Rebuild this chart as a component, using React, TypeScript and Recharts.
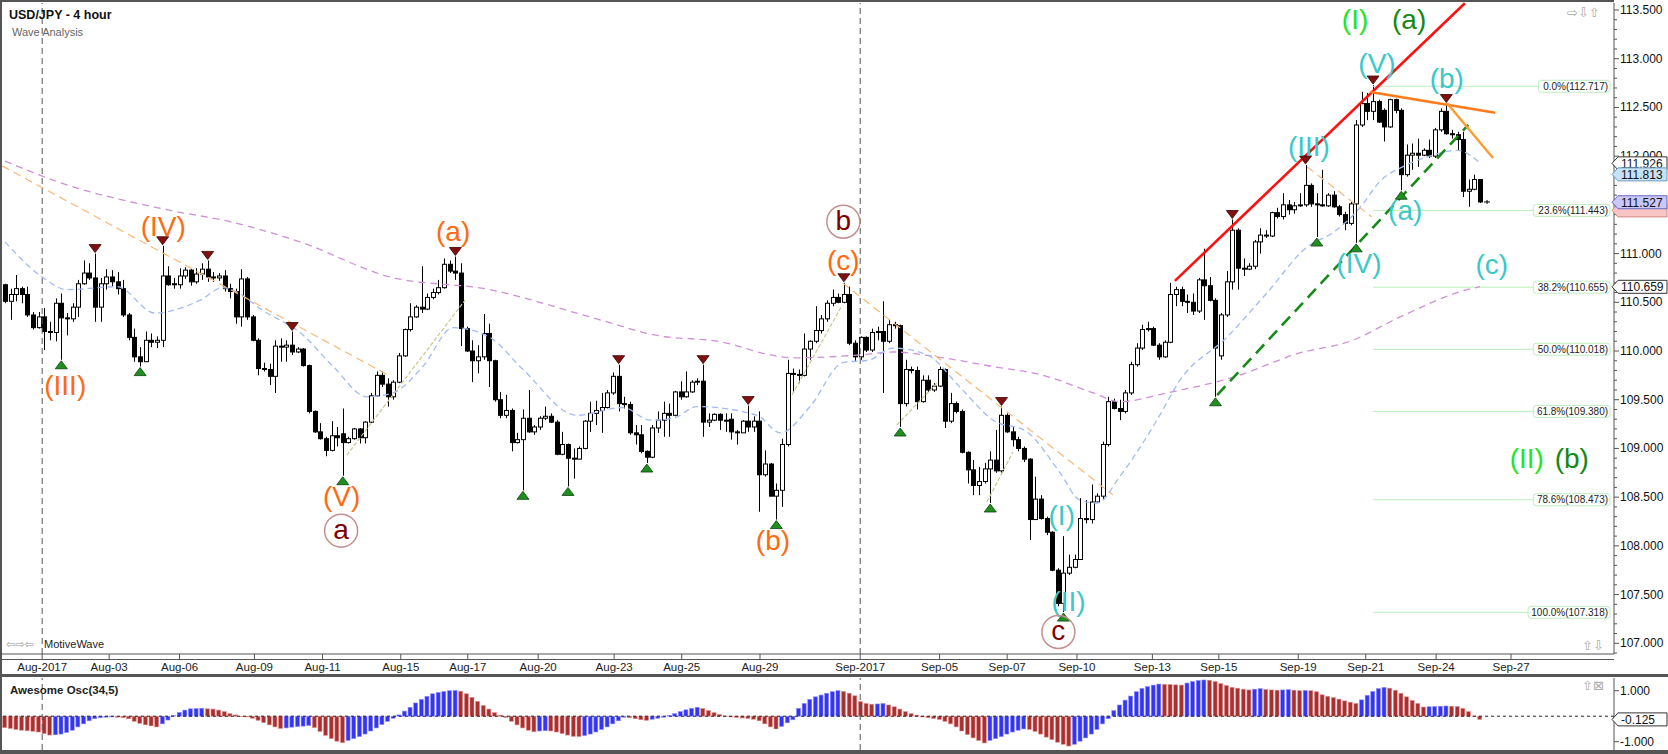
import React from "react";
import {
  ComposedChart, Bar, Line, XAxis, YAxis, ReferenceLine, ReferenceDot,
} from "recharts";

// 4h candles, one per bar (index 0 = first visible bar)
const OPEN = [
  110.68, 110.51, 110.58, 110.64, 110.58, 110.37, 110.24, 110.35, 110.20, 110.19,
  110.49, 110.34, 110.33, 110.45, 110.69, 110.80, 110.75, 110.45, 110.69, 110.76,
  110.71, 110.64, 110.37, 110.14, 109.94, 109.89, 110.11, 110.09, 110.11, 110.77,
  110.69, 110.68, 110.77, 110.83, 110.71, 110.79, 110.84, 110.76, 110.75, 110.77,
  110.64, 110.61, 110.35, 110.74, 110.35, 110.11, 109.82, 109.81, 109.74, 110.05,
  110.04, 110.06, 109.99, 110.02, 109.85, 109.38, 109.17, 109.10, 108.98, 109.13,
  109.15, 109.06, 109.10, 109.20, 109.11, 109.27, 109.54, 109.75, 109.66, 109.53,
  109.68, 109.95, 110.22, 110.35, 110.45, 110.43, 110.55, 110.60, 110.65, 110.89,
  110.82, 110.80, 110.23, 110.00, 109.90, 109.94, 110.18, 109.90, 109.50, 109.34,
  109.39, 109.06, 109.09, 109.31, 109.17, 109.22, 109.31, 109.33, 109.27, 108.94,
  109.04, 108.90, 108.89, 109.00, 109.28, 109.36, 109.39, 109.42, 109.57, 109.74,
  109.46, 109.45, 109.16, 109.14, 108.97, 108.91, 109.21, 109.29, 109.36, 109.34,
  109.58, 109.53, 109.58, 109.68, 109.69, 109.27, 109.29, 109.35, 109.29, 109.30,
  109.17, 109.16, 109.28, 109.22, 109.28, 108.73, 108.84, 108.51, 108.57, 109.04,
  109.77, 109.76, 109.75, 110.02, 110.10, 110.21, 110.33, 110.49, 110.55, 110.50,
  110.58, 110.08, 109.94, 110.14, 110.01, 110.19, 110.20, 110.10, 110.27, 110.26,
  109.46, 109.81, 109.80, 109.48, 109.70, 109.60, 109.64, 109.81, 109.28, 109.46,
  109.38, 108.96, 108.78, 108.62, 108.66, 108.79, 108.88, 108.77, 109.34, 109.17,
  109.09, 109.00, 108.89, 108.27, 108.48, 108.28, 108.14, 107.75, 107.41, 107.72,
  107.78, 107.86, 108.28, 108.27, 108.45, 108.51, 109.04, 109.48, 109.41, 109.38,
  109.57, 109.86, 110.03, 110.22, 110.23, 110.06, 109.94, 110.09, 110.58, 110.63,
  110.51, 110.50, 110.41, 110.73, 110.67, 110.52, 109.95, 110.37, 110.71, 111.24,
  110.85, 110.84, 110.87, 111.12, 111.19, 111.18, 111.42, 111.38, 111.50, 111.45,
  111.49, 111.50, 111.70, 111.51, 111.50, 111.49, 111.60, 111.48, 111.40, 111.31,
  111.51, 112.32, 112.54, 112.46, 112.56, 112.47, 112.30, 112.58, 112.47, 111.81,
  112.01, 112.03, 112.01, 112.06, 112.00, 112.27, 112.46, 112.23, 112.22, 112.17,
  111.64, 111.66, 111.76,
];
const HIGH = [
  110.69, 110.64, 110.78, 110.66, 110.66, 110.40, 110.40, 110.44, 110.30, 110.54,
  110.59, 110.39, 110.49, 110.73, 110.93, 110.90, 111.00, 110.75, 110.84, 110.83,
  110.81, 110.73, 110.39, 110.23, 110.04, 110.20, 110.18, 110.15, 111.08, 110.87,
  110.75, 110.85, 110.86, 110.85, 110.85, 110.90, 110.93, 110.81, 110.80, 110.83,
  110.69, 110.64, 110.84, 110.76, 110.37, 110.13, 109.88, 109.87, 110.11, 110.13,
  110.11, 110.20, 110.04, 110.03, 109.86, 109.39, 109.26, 109.12, 109.28, 109.22,
  109.41, 109.12, 109.21, 109.21, 109.28, 109.57, 109.79, 109.79, 109.72, 109.70,
  109.98, 110.23, 110.49, 110.47, 110.87, 110.59, 110.64, 110.73, 110.95, 110.93,
  110.97, 110.90, 110.25, 110.11, 110.06, 110.38, 110.28, 109.91, 109.58, 109.55,
  109.41, 109.16, 109.40, 109.60, 109.24, 109.33, 109.43, 109.36, 109.29, 109.17,
  109.05, 109.00, 109.02, 109.29, 109.48, 109.49, 109.57, 109.60, 109.78, 109.86,
  109.53, 109.48, 109.24, 109.24, 108.98, 109.24, 109.38, 109.48, 109.46, 109.59,
  109.69, 109.79, 109.70, 109.72, 109.86, 109.36, 109.36, 109.36, 109.36, 109.36,
  109.19, 109.29, 109.44, 109.33, 109.38, 108.98, 108.85, 108.64, 109.10, 109.91,
  109.82, 109.81, 110.18, 110.11, 110.46, 110.37, 110.52, 110.63, 110.59, 110.70,
  110.66, 110.11, 110.15, 110.15, 110.23, 110.25, 110.51, 110.32, 110.30, 110.27,
  109.91, 109.84, 109.84, 109.75, 109.75, 109.67, 109.84, 109.82, 109.57, 109.48,
  109.40, 108.97, 108.88, 108.81, 108.85, 108.97, 109.19, 109.43, 109.36, 109.22,
  109.12, 109.02, 108.90, 108.71, 108.52, 108.30, 108.15, 107.77, 108.10, 107.91,
  107.91, 108.49, 108.47, 108.63, 108.54, 109.07, 109.53, 109.51, 109.50, 109.60,
  109.89, 110.08, 110.27, 110.30, 110.25, 110.08, 110.11, 110.70, 110.66, 110.66,
  110.58, 110.59, 110.75, 111.05, 110.76, 110.54, 110.39, 110.82, 111.35, 111.26,
  110.95, 110.90, 111.14, 111.26, 111.24, 111.43, 111.47, 111.62, 111.55, 111.53,
  111.62, 111.91, 111.72, 111.62, 111.86, 111.62, 111.64, 111.50, 111.43, 111.53,
  112.37, 112.66, 112.65, 112.73, 112.58, 112.49, 112.59, 112.59, 112.49, 112.12,
  112.13, 112.18, 112.08, 112.17, 112.29, 112.49, 112.54, 112.27, 112.25, 112.25,
  111.76, 111.81, 111.76,
];
const LOW = [
  110.49, 110.32, 110.51, 110.49, 110.35, 110.22, 110.23, 110.01, 110.11, 110.10,
  109.91, 110.16, 110.30, 110.35, 110.68, 110.73, 110.30, 110.30, 110.63, 110.66,
  110.58, 110.35, 110.11, 109.89, 109.84, 109.89, 110.04, 110.03, 110.04, 110.67,
  110.64, 110.64, 110.74, 110.67, 110.69, 110.73, 110.71, 110.71, 110.72, 110.61,
  110.54, 110.28, 110.25, 110.32, 110.10, 109.75, 109.79, 109.65, 109.57, 109.89,
  109.89, 109.96, 109.98, 109.84, 109.36, 109.16, 109.09, 108.92, 108.97, 109.02,
  108.72, 109.05, 109.09, 109.05, 109.05, 109.26, 109.53, 109.63, 109.43, 109.50,
  109.67, 109.94, 110.20, 110.34, 110.39, 110.42, 110.53, 110.58, 110.64, 110.80,
  110.73, 110.05, 109.99, 109.68, 109.77, 109.91, 109.63, 109.48, 109.31, 109.31,
  108.97, 109.05, 108.57, 109.16, 109.14, 109.19, 109.29, 109.26, 108.93, 108.93,
  108.61, 108.69, 108.89, 108.99, 109.17, 109.24, 109.16, 109.41, 109.55, 109.38,
  109.41, 109.14, 109.04, 108.95, 108.85, 108.90, 109.16, 109.12, 109.12, 109.33,
  109.50, 109.52, 109.57, 109.65, 109.12, 109.22, 109.28, 109.19, 109.17, 109.09,
  109.04, 109.16, 109.17, 109.17, 108.35, 108.71, 108.51, 108.27, 108.40, 109.02,
  109.58, 109.67, 109.74, 109.91, 110.08, 110.18, 110.30, 110.46, 110.49, 110.49,
  110.06, 109.89, 109.91, 109.99, 109.99, 110.11, 109.57, 110.08, 110.23, 109.22,
  109.43, 109.77, 109.40, 109.47, 109.58, 109.58, 109.63, 109.21, 109.26, 109.36,
  108.95, 108.64, 108.52, 108.52, 108.64, 108.44, 108.75, 108.75, 109.16, 109.02,
  108.97, 108.86, 108.06, 108.27, 108.27, 108.11, 107.74, 107.38, 107.32, 107.70,
  107.77, 107.86, 108.23, 108.23, 108.44, 108.47, 109.02, 109.40, 109.29, 109.36,
  109.55, 109.84, 110.01, 110.20, 110.05, 109.91, 109.93, 110.08, 110.46, 110.46,
  110.39, 110.37, 110.39, 110.32, 110.51, 109.53, 109.91, 110.35, 110.63, 110.63,
  110.77, 110.83, 110.84, 111.00, 111.16, 111.17, 111.36, 111.35, 111.40, 111.41,
  111.48, 111.48, 111.48, 111.17, 111.48, 111.48, 111.47, 111.38, 111.24, 111.29,
  111.11, 112.30, 112.37, 112.37, 112.34, 112.15, 112.29, 112.44, 111.65, 111.79,
  111.86, 111.89, 112.00, 111.98, 111.98, 112.25, 112.22, 112.18, 112.06, 111.58,
  111.48, 111.65, 111.52,
];
const CLOSE = [
  110.51, 110.58, 110.64, 110.58, 110.37, 110.24, 110.35, 110.20, 110.19, 110.49,
  110.34, 110.33, 110.45, 110.69, 110.80, 110.75, 110.45, 110.69, 110.76, 110.71,
  110.64, 110.37, 110.14, 109.94, 109.89, 110.11, 110.09, 110.11, 110.77, 110.68,
  110.68, 110.77, 110.83, 110.71, 110.79, 110.84, 110.76, 110.75, 110.77, 110.64,
  110.61, 110.35, 110.74, 110.35, 110.11, 109.82, 109.81, 109.74, 110.05, 110.04,
  110.06, 109.99, 110.02, 109.85, 109.38, 109.17, 109.10, 108.98, 109.13, 109.11,
  109.06, 109.10, 109.20, 109.11, 109.27, 109.54, 109.75, 109.66, 109.53, 109.68,
  109.95, 110.22, 110.35, 110.45, 110.43, 110.55, 110.60, 110.65, 110.89, 110.82,
  110.80, 110.23, 110.00, 109.90, 109.94, 110.18, 109.90, 109.50, 109.34, 109.39,
  109.06, 109.09, 109.31, 109.17, 109.22, 109.31, 109.33, 109.27, 108.94, 109.04,
  108.90, 108.89, 109.00, 109.28, 109.36, 109.39, 109.42, 109.57, 109.74, 109.46,
  109.45, 109.16, 109.14, 108.97, 108.91, 109.21, 109.29, 109.36, 109.34, 109.58,
  109.53, 109.58, 109.68, 109.69, 109.27, 109.29, 109.35, 109.29, 109.28, 109.17,
  109.16, 109.28, 109.22, 109.28, 108.73, 108.84, 108.51, 108.57, 109.04, 109.77,
  109.76, 109.75, 110.02, 110.10, 110.21, 110.33, 110.49, 110.55, 110.50, 110.58,
  110.08, 109.94, 110.14, 110.01, 110.19, 110.20, 110.10, 110.27, 110.26, 109.46,
  109.81, 109.80, 109.48, 109.70, 109.60, 109.64, 109.81, 109.28, 109.46, 109.38,
  108.96, 108.78, 108.62, 108.66, 108.79, 108.88, 108.77, 109.34, 109.17, 109.09,
  109.00, 108.89, 108.27, 108.48, 108.28, 108.14, 107.75, 107.41, 107.72, 107.78,
  107.86, 108.28, 108.27, 108.45, 108.51, 109.04, 109.48, 109.41, 109.38, 109.57,
  109.86, 110.03, 110.22, 110.23, 110.06, 109.94, 110.09, 110.58, 110.63, 110.51,
  110.50, 110.41, 110.73, 110.67, 110.52, 110.03, 110.37, 110.71, 111.24, 110.85,
  110.84, 110.87, 111.12, 111.19, 111.18, 111.42, 111.38, 111.50, 111.45, 111.49,
  111.50, 111.70, 111.51, 111.50, 111.49, 111.60, 111.48, 111.40, 111.31, 111.51,
  112.32, 112.54, 112.46, 112.56, 112.35, 112.30, 112.58, 112.47, 111.81, 112.01,
  112.03, 112.01, 112.06, 112.00, 112.27, 112.46, 112.23, 112.22, 112.17, 111.64,
  111.66, 111.76, 111.53,
];

// Awesome Oscillator (34,5), one value per bar
const AO = [
  -0.45, -0.48, -0.52, -0.55, -0.57, -0.59, -0.62, -0.68, -0.74, -0.73,
  -0.70, -0.64, -0.55, -0.42, -0.30, -0.18, -0.10, -0.06, -0.04, -0.03,
  -0.04, -0.06, -0.10, -0.20, -0.28, -0.34, -0.38, -0.42, -0.30, -0.15,
  0.02, 0.15, 0.24, 0.29, 0.30, 0.31, 0.29, 0.28, 0.24, 0.18,
  0.10, 0.05, 0.00, -0.03, -0.08, -0.16, -0.25, -0.34, -0.42, -0.48,
  -0.46, -0.43, -0.41, -0.39, -0.37, -0.45, -0.60, -0.75, -0.88, -0.98,
  -1.04, -0.95, -0.88, -0.80, -0.70, -0.58, -0.46, -0.33, -0.20, -0.08,
  0.05, 0.20, 0.35, 0.52, 0.66, 0.78, 0.88, 0.93, 0.97, 1.00,
  1.01, 0.98, 0.88, 0.74, 0.58, 0.42, 0.28, 0.14, 0.04, -0.05,
  -0.20, -0.34, -0.46, -0.55, -0.61, -0.58, -0.57, -0.58, -0.62, -0.68,
  -0.74, -0.79, -0.80, -0.76, -0.70, -0.62, -0.52, -0.42, -0.30, -0.18,
  -0.04, -0.06, -0.10, -0.14, -0.16, -0.12, -0.08, -0.04, 0.02, 0.10,
  0.18, 0.25, 0.31, 0.35, 0.30, 0.22, 0.14, 0.07, 0.01, -0.03,
  -0.05, -0.07, -0.09, -0.12, -0.18, -0.30, -0.42, -0.50, -0.40, -0.26,
  -0.14, 0.31, 0.50, 0.66, 0.76, 0.83, 0.90, 0.96, 1.00, 0.97,
  0.90, 0.80, 0.57, 0.50, 0.47, 0.48, 0.50, 0.44, 0.37, 0.28,
  0.18, 0.10, 0.04, -0.03, -0.06, -0.09, -0.13, -0.20, -0.30, -0.42,
  -0.58, -0.72, -0.85, -0.95, -1.05, -0.95, -0.88, -0.80, -0.70, -0.62,
  -0.55, -0.50, -0.52, -0.60, -0.70, -0.82, -0.92, -1.02, -1.10, -1.17,
  -1.10, -0.98, -0.85, -0.70, -0.52, -0.30, -0.10, 0.22, 0.44, 0.63,
  0.79, 0.96, 1.09, 1.16, 1.22, 1.26, 1.25, 1.24, 1.23, 1.22,
  1.30, 1.36, 1.40, 1.42, 1.41, 1.36, 1.28, 1.20, 1.13, 1.10,
  1.06, 1.03, 1.06, 1.08, 1.05, 1.03, 1.02, 1.03, 1.04, 1.02,
  1.00, 1.01, 1.00, 0.96, 0.84, 0.78, 0.73, 0.67, 0.60, 0.55,
  0.50, 0.64, 0.82, 0.97, 1.08, 1.13, 1.10, 1.02, 0.90, 0.76,
  0.62, 0.50, 0.36, 0.37, 0.38, 0.39, 0.40, 0.39, 0.38, 0.31,
  0.18, 0.01, -0.125,
];

// date axis (bar-index position of each label)
const TICK_IDX = [6.6, 18.5, 31.0, 44.3, 56.4, 70.3, 82.2, 94.7, 108.2, 120.2, 134.1,
  151.9, 166.0, 178.0, 190.4, 203.8, 215.6, 229.7, 241.7, 254.2, 267.5];
const TICK_LABELS = ["Aug-2017", "Aug-03", "Aug-06", "Aug-09", "Aug-11", "Aug-15", "Aug-17",
  "Aug-20", "Aug-23", "Aug-25", "Aug-29", "Sep-2017", "Sep-05", "Sep-07", "Sep-10", "Sep-13",
  "Sep-15", "Sep-19", "Sep-21", "Sep-24", "Sep-27"];
const MONTH_LINES = [6.6, 151.9];

const PRICE_LABELS = [107, 107.5, 108, 108.5, 109, 109.5, 110, 110.5, 111, 111.5, 112, 112.5, 113, 113.5];

// moving averages, sampled along the curves
const BLUE_MA_IDX = [0, 6.6, 11, 19.9, 26.6, 34.6, 38.7, 46.5, 52.4, 58.3, 64.3, 68.9, 74.2, 79.6,
  86.1, 92, 101.6, 109.8, 114.6, 118.7, 122.9, 133.6, 137.7, 143, 148.8, 153.6, 157.7, 163.8, 169.6,
  175.5, 181.5, 187.4, 190.9, 194, 198, 204.6, 208.7, 217, 224.2, 231.3, 236, 240.8, 244.2, 249,
  253.6, 257.9, 262];
const BLUE_MA_VAL = [111.12, 110.76, 110.63, 110.66, 110.39, 110.52, 110.65, 110.39, 110.19, 109.84,
  109.53, 109.57, 109.84, 110.24, 110.14, 109.81, 109.34, 109.42, 109.29, 109.31, 109.43, 109.34,
  109.16, 109.43, 109.88, 109.91, 110.03, 109.96, 109.63, 109.29, 109.17, 108.75, 108.47, 108.44,
  108.71, 109.29, 109.70, 110.14, 110.60, 111.07, 111.22, 111.48, 111.74, 111.91, 112.01, 112.06,
  111.93];
const PURPLE_MA_IDX = [0, 9.2, 28.8, 40.5, 52.4, 68.4, 86.1, 103.9, 115.8, 127.5, 135.9, 140, 151.9,
  157.7, 166.6, 175.5, 184.4, 193.3, 198, 206.4, 218.1, 230, 238.9, 247.8, 259.7, 262];
const PURPLE_MA_VAL = [111.95, 111.74, 111.45, 111.32, 111.12, 110.76, 110.63, 110.35, 110.16, 110.09,
  109.96, 109.93, 109.96, 109.99, 109.93, 109.84, 109.75, 109.57, 109.48, 109.57, 109.73, 109.98,
  110.10, 110.35, 110.63, 110.66];

// swing markers (bar indices)
const SWING_HIGH_IDX = [16, 28, 36, 51, 80, 109, 124, 132, 149, 177, 218, 231, 243, 256];
const SWING_LOW_IDX = [10, 24, 60, 92, 100, 114, 137, 159, 175, 188, 215, 233, 240, 248];

// Fibonacci retracement
const FIB_PCT = ["0.0%", "23.6%", "38.2%", "50.0%", "61.8%", "78.6%", "100.0%"];
const FIB_PRICE = [112.717, 111.443, 110.655, 110.018, 109.380, 108.473, 107.318];
const FIB_START = 243;

// wave labels: [text, bar index, price]
const ORANGE_LABELS = [["(III)", 10.7, 109.63], ["(IV)", 28.1, 111.26], ["(V)", 59.8, 108.49],
  ["(a)", 79.6, 111.21], ["(b)", 136.4, 108.03], ["(c)", 148.9, 110.906]];
const CIRCLE_LABELS = [["a", 59.7, 108.156], ["b", 148.9, 111.327], ["c", 187.1, 107.116]];
const CYAN_LABELS = [["(I)", 187.7, 108.286], ["(II)", 188.9, 107.41], ["(III)", 231.6, 112.08],
  ["(IV)", 240.5, 110.88], ["(V)", 243.7, 112.935], ["(a)", 248.7, 111.42], ["(b)", 256.1, 112.78],
  ["(c)", 264.1, 110.866]];
const LIME_LABELS = [["(I)", 239.8, 113.387], ["(II)", 270.3, 108.881]];
const GREEN_LABELS = [["(a)", 249.4, 113.387], ["(b)", 278.3, 108.881]];

// trend lines: [[idx, price], [idx, price]]
const RED_TREND = [[207.8, 110.72], [259.3, 113.57]];
const GREEN_TREND = [[215.3, 109.548], [259.9, 112.32]];
const ORANGE_TREND = [[242.5, 112.658], [264.7, 112.446]];
const ORANGE2_TREND = [[256.1, 112.545], [264.3, 111.981]];
const LIGHT_TRENDS = [
  [[-0.5, 111.9], [68.0, 109.754]],
  [[148.8, 110.698], [196.8, 108.522]],
  [[231.3, 111.889], [242.8, 111.375]],
];
const TAN_TRENDS = [
  [[60.7, 108.93], [81.7, 110.52]],
  [[139.8, 109.55], [148.7, 110.47]],
  [[158.4, 109.24], [165.5, 109.67]],
  [[174.4, 108.45], [179, 108.96]],
];

// value tags on the price axis
const TAG_PRICES = [111.926, 111.813, 111.443, 111.527, 110.659];
const TAG_KIND = ["plain", "blue", "pink", "violet", "plain"];
const AO_TAG = -0.125;

const CANDLES = OPEN.map((o, i) => ({ i, open: o, high: HIGH[i], low: LOW[i], close: CLOSE[i] }));
const OSC = AO.map((v, i) => ({ i, ao: v, up: i > 0 && v > AO[i - 1] }));
const BLUE_MA = BLUE_MA_IDX.map((i, k) => ({ i, v: BLUE_MA_VAL[k] }));
const PURPLE_MA = PURPLE_MA_IDX.map((i, k) => ({ i, v: PURPLE_MA_VAL[k] }));

const PRICE_TICKS: number[] = [];
for (let t = 1069; t <= 1135; t++) PRICE_TICKS.push(t / 10);

const XMIN = -0.533;
const XMAX = 285.79;
const YMIN = 106.89;
const YMAX = 113.572;
const OMIN = -1.325;
const OMAX = 1.498;

const FONT = '"Liberation Sans", Arial, sans-serif';
const ORANGE = "#ff6a10";
const CYAN = "#3cc8c8";
const LIME = "#22e622";
const DKGREEN = "#138a13";
const MAROON = "#7d0000";

function Candle(props: any) {
  const { x, y, width, height, payload } = props;
  const top = Math.min(y, y + height);
  const h = Math.abs(height);
  const cx = Math.round(x + width / 2) + 0.5;
  const span = payload.high - payload.low;
  const toY = (p: number) => (span > 0 ? top + ((payload.high - p) / span) * h : top);
  const yo = toY(payload.open);
  const yc = toY(payload.close);
  const up = payload.close >= payload.open;
  const bt = Math.min(yo, yc);
  const bh = Math.max(1, Math.abs(yo - yc));
  return (
    <g>
      <line x1={cx} x2={cx} y1={top} y2={top + h} stroke="#000" strokeWidth={1} />
      <rect x={cx - 2} y={bt} width={4} height={bh} fill={up ? "#fff" : "#000"} stroke="#000" strokeWidth={1} />
    </g>
  );
}

function AoBar(props: any) {
  const { x, y, width, height, payload } = props;
  const top = Math.min(y, y + height);
  const h = Math.max(0.5, Math.abs(height));
  return (
    <rect x={x + 0.5} y={top} width={width - 1} height={h}
      fill={payload.up ? "#3434f4" : "#a83030"}
      stroke={payload.up ? "#8c8cff" : "#e09090"} strokeWidth={0.6} />
  );
}

function DateTick(props: any) {
  const { x, y, payload } = props;
  const k = TICK_IDX.indexOf(payload.value);
  return (
    <text x={x} y={y + 12} textAnchor="middle" fontSize={11.5} fill="#222" fontFamily={FONT}>
      {TICK_LABELS[k]}
    </text>
  );
}

function PriceTick(props: any) {
  const { x, y, payload } = props;
  const v = payload.value;
  const major = PRICE_LABELS.some((p) => Math.abs(p - v) < 1e-6);
  return (
    <g>
      <line x1={x} x2={x + (major ? 5 : 3)} y1={y} y2={y} stroke="#555" />
      {major && (
        <text x={x + 6} y={y + 4} fontSize={12} fill="#111" fontFamily={FONT}>
          {v.toFixed(3)}
        </text>
      )}
    </g>
  );
}

function OscTick(props: any) {
  const { x, y, payload } = props;
  return (
    <g>
      <line x1={x} x2={x + 5} y1={y} y2={y} stroke="#555" />
      <text x={x + 6} y={y + 4} fontSize={12} fill="#111" fontFamily={FONT}>
        {payload.value.toFixed(3)}
      </text>
    </g>
  );
}

const textShape = (text: string, color: string) => (p: any) => (
  <text x={p.cx} y={p.cy + 7.5} fill={color} fontSize={28} textAnchor="middle" fontFamily={FONT}>
    {text}
  </text>
);

const circleShape = (text: string) => (p: any) => (
  <g>
    <circle cx={p.cx} cy={p.cy} r={16.5} fill="none" stroke="#c58f8f" strokeWidth={1.5} />
    <text x={p.cx} y={p.cy + 8} fill={MAROON} fontSize={28} textAnchor="middle" fontFamily={FONT}>
      {text}
    </text>
  </g>
);

const downTri = (p: any) => (
  <polygon points={`${p.cx - 6},${p.cy - 9} ${p.cx + 6},${p.cy - 9} ${p.cx},${p.cy - 1}`}
    fill="#801010" stroke="#3a0000" strokeWidth={0.8} />
);
const upTri = (p: any) => (
  <polygon points={`${p.cx - 6},${p.cy + 9} ${p.cx + 6},${p.cy + 9} ${p.cx},${p.cy + 1}`}
    fill="#1f901f" stroke="#0a400a" strokeWidth={0.8} />
);

const fibLabel = (text: string) => (p: any) => {
  const w = text.length * 5.2 + 4;
  return (
    <g>
      <rect x={p.cx - w} y={p.cy - 6} width={w} height={12} rx={3} fill="#fff" stroke="#bdeebd" />
      <text x={p.cx - 2} y={p.cy + 3.5} fontSize={10} textAnchor="end" fill="#222" fontFamily={FONT}>
        {text}
      </text>
    </g>
  );
};

const TAG_STYLE: Record<string, { fill: string; stroke: string }> = {
  plain: { fill: "#ffffff", stroke: "#333" },
  blue: { fill: "#c6e2f5", stroke: "#6a9cc0" },
  pink: { fill: "#f8c4c4", stroke: "#d08a8a" },
  violet: { fill: "#c8c8fa", stroke: "#6a6ac0" },
};

const tagShape = (value: number, kind: string, digits: number) => (p: any) => {
  const s = TAG_STYLE[kind];
  const x0 = p.cx - 2;
  const x1 = 1667;
  return (
    <g>
      <polygon
        points={`${x0},${p.cy} ${x0 + 6},${p.cy - 6.5} ${x1},${p.cy - 6.5} ${x1},${p.cy + 6.5} ${x0 + 6},${p.cy + 6.5}`}
        fill={s.fill} stroke={s.stroke} strokeWidth={1} />
      {kind !== "pink" && (
        <text x={x0 + 9} y={p.cy + 4.5} fontSize={12} fill="#111" fontFamily={FONT}>
          {value.toFixed(digits)}
        </text>
      )}
    </g>
  );
};

const lastMark = (p: any) => (
  <g stroke="#000" strokeWidth={1}>
    <line x1={p.cx + 4} x2={p.cx + 10} y1={p.cy} y2={p.cy} />
    <line x1={p.cx + 7} x2={p.cx + 7} y1={p.cy - 2} y2={p.cy + 2} />
  </g>
);

const seg = (s: number[][]) => [{ x: s[0][0], y: s[0][1] }, { x: s[1][0], y: s[1][1] }];

export default function App() {
  return (
    <div style={{ position: "absolute", left: 0, top: 0, width: 1668, height: 754, background: "#fff", fontFamily: FONT, overflow: "hidden" }}>
      <div style={{ position: "absolute", left: 0, top: 0 }}>
        <ComposedChart width={1668} height={677} data={CANDLES} margin={{ top: 3, right: 0, bottom: 0, left: 2 }}>
          <XAxis dataKey="i" type="number" domain={[XMIN, XMAX]} allowDataOverflow ticks={TICK_IDX}
            interval={0} height={23} tickSize={5} tickMargin={0} tick={<DateTick />}
            axisLine={{ stroke: "#555" }} tickLine={{ stroke: "#555" }} />
          <YAxis orientation="right" type="number" domain={[YMIN, YMAX]} allowDataOverflow
            ticks={PRICE_TICKS} interval={0} width={54} tickSize={0} tickMargin={0}
            tickLine={false} tick={<PriceTick />} axisLine={{ stroke: "#555" }} />

          {MONTH_LINES.map((m) => (
            <ReferenceLine key={"m" + m} x={m} stroke="#555" strokeDasharray="6 4" />
          ))}

          {FIB_PRICE.map((p, k) => (
            <ReferenceLine key={"f" + k} segment={[{ x: FIB_START, y: p }, { x: XMAX - 0.7, y: p }]}
              stroke="#b8efb8" strokeWidth={1} />
          ))}

          <Line data={PURPLE_MA} dataKey="v" type="monotone" stroke="#cf90d8" strokeWidth={1.3}
            strokeDasharray="7 5" dot={false} isAnimationActive={false} />
          <Line data={BLUE_MA} dataKey="v" type="monotone" stroke="#a3baf5" strokeWidth={1.3}
            strokeDasharray="6 4" dot={false} isAnimationActive={false} />

          {LIGHT_TRENDS.map((s, k) => (
            <ReferenceLine key={"lt" + k} segment={seg(s)} stroke="#f8b878" strokeWidth={1.2}
              strokeDasharray="8 5" ifOverflow="visible" />
          ))}
          {TAN_TRENDS.map((s, k) => (
            <ReferenceLine key={"tt" + k} segment={seg(s)} stroke="#c9c48c" strokeWidth={1.2}
              strokeDasharray="4 2" />
          ))}

          <Bar dataKey={(d: any) => [d.low, d.high]} barSize={5} shape={<Candle />} isAnimationActive={false} />

          <ReferenceLine segment={seg(RED_TREND)} stroke="#ff1010" strokeWidth={2.6} ifOverflow="visible" />
          <ReferenceLine segment={seg(GREEN_TREND)} stroke="#178a17" strokeWidth={2.6} strokeDasharray="12 7" />
          <ReferenceLine segment={seg(ORANGE_TREND)} stroke="#ff7a1a" strokeWidth={2.6} />
          <ReferenceLine segment={seg(ORANGE2_TREND)} stroke="#ff9c30" strokeWidth={2.4} />

          {SWING_HIGH_IDX.map((i) => (
            <ReferenceDot key={"sh" + i} x={i} y={HIGH[i]} r={0} shape={downTri} ifOverflow="visible" />
          ))}
          {SWING_LOW_IDX.map((i) => (
            <ReferenceDot key={"sl" + i} x={i} y={LOW[i]} r={0} shape={upTri} ifOverflow="visible" />
          ))}

          {ORANGE_LABELS.map((l: any, k) => (
            <ReferenceDot key={"ol" + k} x={l[1]} y={l[2]} r={0} shape={textShape(l[0], ORANGE)} ifOverflow="visible" />
          ))}
          {CYAN_LABELS.map((l: any, k) => (
            <ReferenceDot key={"cl" + k} x={l[1]} y={l[2]} r={0} shape={textShape(l[0], CYAN)} ifOverflow="visible" />
          ))}
          {LIME_LABELS.map((l: any, k) => (
            <ReferenceDot key={"ll" + k} x={l[1]} y={l[2]} r={0} shape={textShape(l[0], LIME)} ifOverflow="visible" />
          ))}
          {GREEN_LABELS.map((l: any, k) => (
            <ReferenceDot key={"gl" + k} x={l[1]} y={l[2]} r={0} shape={textShape(l[0], DKGREEN)} ifOverflow="visible" />
          ))}
          {CIRCLE_LABELS.map((l: any, k) => (
            <ReferenceDot key={"rl" + k} x={l[1]} y={l[2]} r={0} shape={circleShape(l[0])} ifOverflow="visible" />
          ))}

          {FIB_PRICE.map((p, k) => (
            <ReferenceDot key={"fl" + k} x={XMAX - 0.7} y={p} r={0}
              shape={fibLabel(`${FIB_PCT[k]}(${p.toFixed(3)})`)} ifOverflow="visible" />
          ))}

          <ReferenceDot x={CANDLES.length - 1} y={CLOSE[CLOSE.length - 1]} r={0} shape={lastMark} ifOverflow="visible" />
        </ComposedChart>
      </div>

      {/* same geometry, drawn on top so the value tags cover the axis labels */}
      <div style={{ position: "absolute", left: 0, top: 0 }}>
        <ComposedChart width={1668} height={677} data={CANDLES} margin={{ top: 3, right: 0, bottom: 0, left: 2 }}>
          <XAxis dataKey="i" type="number" domain={[XMIN, XMAX]} allowDataOverflow height={23}
            tick={false} tickLine={false} axisLine={false} />
          <YAxis orientation="right" type="number" domain={[YMIN, YMAX]} allowDataOverflow width={54}
            tick={false} tickLine={false} axisLine={false} />
          {TAG_PRICES.map((p, k) => (
            <ReferenceDot key={"tg" + k} x={XMAX} y={p} r={0} shape={tagShape(p, TAG_KIND[k], 3)} ifOverflow="visible" />
          ))}
        </ComposedChart>
      </div>

      <div style={{ position: "absolute", left: 0, top: 677 }}>
        <ComposedChart width={1668} height={75} data={OSC} margin={{ top: 1, right: 0, bottom: 2, left: 2 }}>
          <XAxis dataKey="i" type="number" domain={[XMIN, XMAX]} allowDataOverflow hide />
          <YAxis orientation="right" type="number" domain={[OMIN, OMAX]} allowDataOverflow
            ticks={[1, -1]} interval={0} width={54} tickSize={0} tickMargin={0} tickLine={false}
            tick={<OscTick />} axisLine={{ stroke: "#555" }} />
          {MONTH_LINES.map((m) => (
            <ReferenceLine key={"om" + m} x={m} stroke="#555" strokeDasharray="6 4" />
          ))}
          <Bar dataKey="ao" barSize={5} shape={<AoBar />} isAnimationActive={false} />
          <ReferenceLine y={0} stroke="#222" strokeDasharray="3 3" />
          <ReferenceDot x={XMAX} y={AO_TAG} r={0} shape={tagShape(AO_TAG, "plain", 3)} ifOverflow="visible" />
        </ComposedChart>
      </div>

      <svg width={1668} height={754} style={{ position: "absolute", left: 0, top: 0, pointerEvents: "none" }}>
        <rect x={0} y={0} width={1614} height={2} fill="#555" />
        <rect x={0} y={0} width={2} height={754} fill="#555" />
        <line x1={2} x2={1614} y1={659.5} y2={659.5} stroke="#555" />
        <rect x={0} y={674} width={1668} height={3} fill="#555" />
        <rect x={0} y={750} width={1668} height={4} fill="#555" />
        <text x={9} y={19} fontSize={12.5} fontWeight="bold" fill="#111" fontFamily={FONT}>USD/JPY - 4 hour</text>
        <text x={12} y={36} fontSize={11} fill="#666" fontFamily={FONT}>Wave Analysis</text>
        <text x={6} y={648} fontSize={11} fill="#999" fontFamily="DejaVu Sans">⇦⇨⇦</text>
        <text x={44} y={648} fontSize={11} fill="#222" fontFamily={FONT}>MotiveWave</text>
        <text x={10} y={694} fontSize={11.5} fontWeight="bold" fill="#222" fontFamily={FONT}>Awesome Osc(34,5)</text>
        <text x={1567} y={17} fontSize={13} fill="#aaa" fontFamily="DejaVu Sans">⇨⇩⇧</text>
        <text x={1582} y={650} fontSize={13} fill="#aaa" fontFamily="DejaVu Sans">⇧⇩</text>
        <text x={1582} y={690} fontSize={13} fill="#aaa" fontFamily="DejaVu Sans">⇧⊠</text>
      </svg>
    </div>
  );
}
